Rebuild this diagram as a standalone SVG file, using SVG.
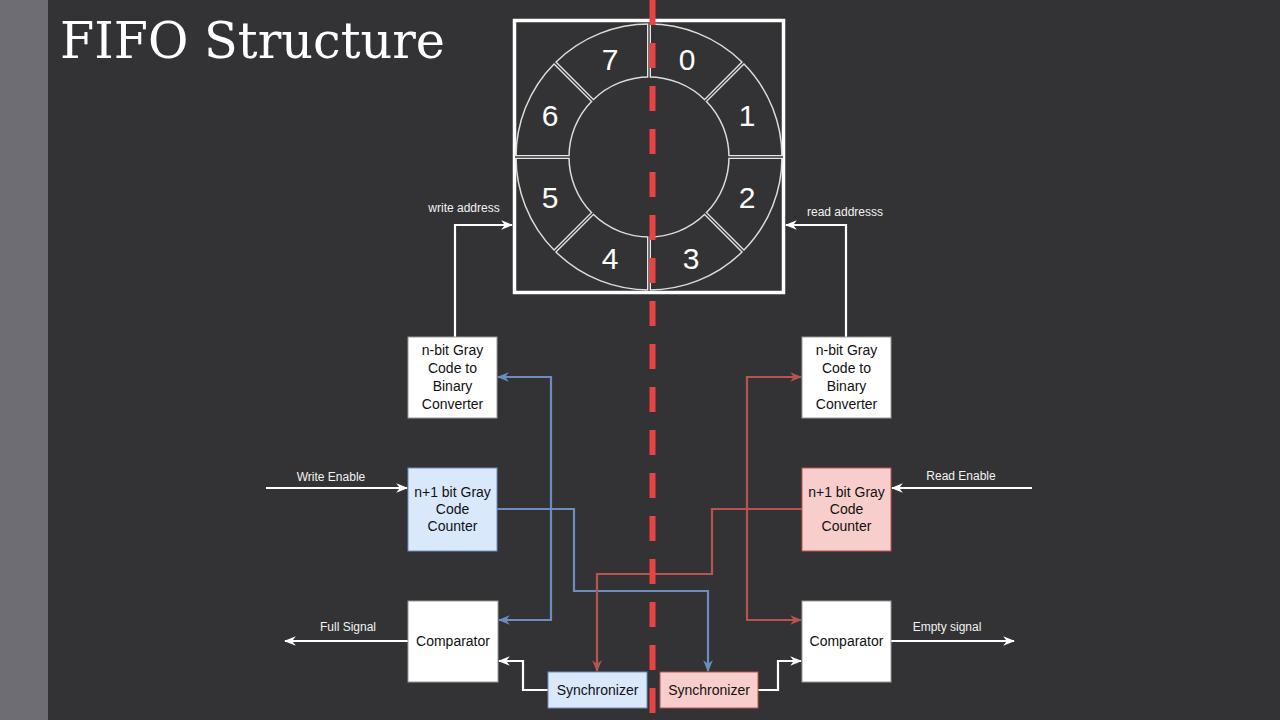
<svg xmlns="http://www.w3.org/2000/svg" width="1280" height="720" viewBox="0 0 1280 720">
<style>
.lbl{font-family:"Liberation Sans",Arial,sans-serif;font-size:12px;fill:#f2f2f2;text-anchor:middle}
.bt{font-family:"Liberation Sans",Arial,sans-serif;font-size:14px;fill:#111;text-anchor:middle}
.num{font-family:"Liberation Sans",Arial,sans-serif;font-size:30px;fill:#fff;text-anchor:middle}
.w{fill:none;stroke:#fff;stroke-width:2.2}
.b{fill:none;stroke:#6c8ebf;stroke-width:2.2}
.r{fill:none;stroke:#b85450;stroke-width:2.2}
.wb{fill:#fff;stroke:#999;stroke-width:1}
.bb{fill:#dae8fc;stroke:#6c8ebf;stroke-width:1}
.rb{fill:#f8cecc;stroke:#b85450;stroke-width:1}
.dv1{stroke:#e6e6e6;stroke-width:4}
.dv2{stroke:#333335;stroke-width:1.3}
</style>
<defs>
<marker id="aw" viewBox="0 0 10 10" refX="9" refY="5" markerWidth="12" markerHeight="12" orient="auto" markerUnits="userSpaceOnUse"><path d="M0,1 L10,5 L0,9 L3,5 z" fill="#fff"/></marker>
<marker id="ab" viewBox="0 0 10 10" refX="9" refY="5" markerWidth="12" markerHeight="12" orient="auto" markerUnits="userSpaceOnUse"><path d="M0,1 L10,5 L0,9 L3,5 z" fill="#6c8ebf"/></marker>
<marker id="ar" viewBox="0 0 10 10" refX="9" refY="5" markerWidth="12" markerHeight="12" orient="auto" markerUnits="userSpaceOnUse"><path d="M0,1 L10,5 L0,9 L3,5 z" fill="#b85450"/></marker>
</defs>
<rect x="0" y="0" width="1280" height="720" fill="#333335"/>
<rect x="0" y="0" width="48" height="720" fill="#6e6d73"/>
<text x="60" y="58" font-family="'DejaVu Serif','Liberation Serif',serif" font-size="50" fill="#fff" textLength="385" lengthAdjust="spacingAndGlyphs">FIFO Structure</text>

<g id="memory">
<rect x="514.5" y="20.5" width="269" height="272" fill="none" stroke="#fff" stroke-width="3.5"/>
<circle cx="649" cy="157" r="133" fill="none" stroke="#dcdcdc" stroke-width="1.5"/>
<circle cx="649" cy="157" r="80" fill="none" stroke="#dcdcdc" stroke-width="1.5"/>
<g class="dv1">
<line x1="649" y1="77" x2="649" y2="24"/><line x1="649" y1="237" x2="649" y2="290"/>
<line x1="569" y1="157" x2="516" y2="157"/><line x1="729" y1="157" x2="782" y2="157"/>
<line x1="705.6" y1="100.4" x2="743" y2="63"/><line x1="592.4" y1="100.4" x2="555" y2="63"/>
<line x1="705.6" y1="213.6" x2="743" y2="251"/><line x1="592.4" y1="213.6" x2="555" y2="251"/>
</g>
<g class="dv2">
<line x1="649" y1="78" x2="649" y2="23"/><line x1="649" y1="236" x2="649" y2="291"/>
<line x1="570" y1="157" x2="515" y2="157"/><line x1="728" y1="157" x2="783" y2="157"/>
<line x1="705" y1="101" x2="744" y2="62"/><line x1="593" y1="101" x2="554" y2="62"/>
<line x1="705" y1="213" x2="744" y2="252"/><line x1="593" y1="213" x2="554" y2="252"/>
</g>
<text class="num" x="610" y="70">7</text>
<text class="num" x="687" y="70">0</text>
<text class="num" x="550" y="126">6</text>
<text class="num" x="747" y="126">1</text>
<text class="num" x="550" y="208">5</text>
<text class="num" x="747" y="208">2</text>
<text class="num" x="610" y="269">4</text>
<text class="num" x="691" y="269">3</text>
</g>

<g id="connectors">
<path class="w" d="M455 337 V225 H512" marker-end="url(#aw)"/>
<path class="w" d="M846 337 V225 H786" marker-end="url(#aw)"/>
<path class="w" d="M266 488 H407" marker-end="url(#aw)"/>
<path class="w" d="M1032 488 H892" marker-end="url(#aw)"/>
<path class="w" d="M408 641 H285" marker-end="url(#aw)"/>
<path class="w" d="M891 641 H1014" marker-end="url(#aw)"/>
<path class="w" d="M548 690 H523 V661 H499" marker-end="url(#aw)"/>
<path class="w" d="M758 690 H778 V661 H801" marker-end="url(#aw)"/>
<path class="b" d="M497 509 H574 V591 H708 V671" marker-end="url(#ab)"/>
<path class="b" d="M551 509 V377 H498" marker-end="url(#ab)"/>
<path class="b" d="M551 509 V620 H499" marker-end="url(#ab)"/>
<path class="r" d="M802 509 H712 V574 H597 V671" marker-end="url(#ar)"/>
<path class="r" d="M747 509 V377 H801" marker-end="url(#ar)"/>
<path class="r" d="M747 509 V620 H801" marker-end="url(#ar)"/>
<text class="lbl" x="464" y="212">write address</text>
<text class="lbl" x="845" y="216">read addresss</text>
<text class="lbl" x="331" y="481">Write Enable</text>
<text class="lbl" x="961" y="480">Read Enable</text>
<text class="lbl" x="348" y="631">Full Signal</text>
<text class="lbl" x="947" y="631">Empty signal</text>
</g>

<g id="w-conv">
<rect class="wb" x="408" y="337" width="89" height="81"/>
<text class="bt" x="452.5" y="355">n-bit Gray</text>
<text class="bt" x="452.5" y="373">Code to</text>
<text class="bt" x="452.5" y="391">Binary</text>
<text class="bt" x="452.5" y="409">Converter</text>
</g>
<g id="w-counter">
<rect class="bb" x="408" y="468" width="89" height="83"/>
<text class="bt" x="452.5" y="497">n+1 bit Gray</text>
<text class="bt" x="452.5" y="514">Code</text>
<text class="bt" x="452.5" y="531">Counter</text>
</g>
<g id="w-comp">
<rect class="wb" x="408" y="601" width="90" height="81"/>
<text class="bt" x="453" y="646">Comparator</text>
</g>
<g id="w-sync">
<rect class="bb" x="548" y="672" width="99" height="36"/>
<text class="bt" x="597.5" y="695">Synchronizer</text>
</g>
<g id="r-conv">
<rect class="wb" x="802" y="337" width="89" height="81"/>
<text class="bt" x="846.5" y="355">n-bit Gray</text>
<text class="bt" x="846.5" y="373">Code to</text>
<text class="bt" x="846.5" y="391">Binary</text>
<text class="bt" x="846.5" y="409">Converter</text>
</g>
<g id="r-counter">
<rect class="rb" x="802" y="468" width="89" height="83"/>
<text class="bt" x="846.5" y="497">n+1 bit Gray</text>
<text class="bt" x="846.5" y="514">Code</text>
<text class="bt" x="846.5" y="531">Counter</text>
</g>
<g id="r-comp">
<rect class="wb" x="802" y="601" width="89" height="81"/>
<text class="bt" x="846.5" y="646">Comparator</text>
</g>
<g id="r-sync">
<rect class="rb" x="660" y="672" width="98" height="36"/>
<text class="bt" x="709" y="695">Synchronizer</text>
</g>

<line id="divider" x1="652.5" y1="0" x2="652.5" y2="720" stroke="#e84444" stroke-width="6" stroke-dasharray="25 18"/>
</svg>
